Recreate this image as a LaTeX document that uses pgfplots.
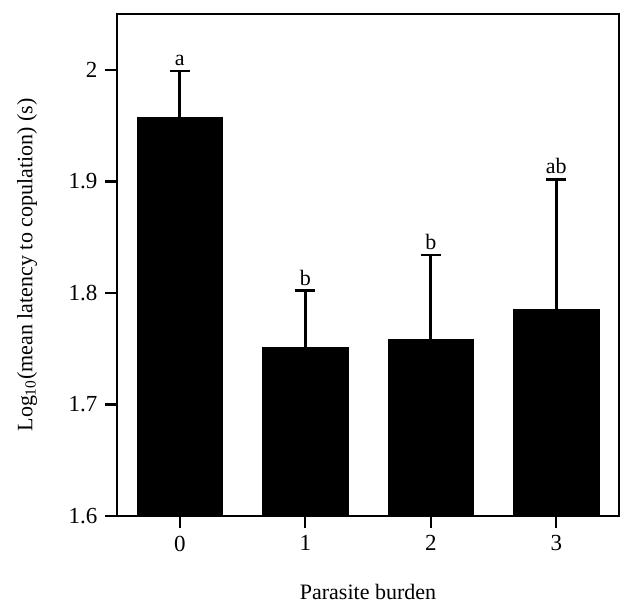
\documentclass[border=0pt]{standalone}
\usepackage{pgfplots}
\pgfplotsset{compat=1.18}
\usepackage{pgfplotstable}
\usepackage{fontspec}
\setmainfont{Liberation Serif}

\pgfplotstableread{
x y err top lbl
0 1.957 0.042 1.999 a
1 1.751 0.051 1.802 b
2 1.758 0.076 1.834 b
3 1.785 0.117 1.902 ab
}\latency

\begin{document}
\fontsize{11pt}{13pt}\selectfont
\begin{tikzpicture}
\begin{axis}[
    scale only axis,
    width=251pt, height=251pt,
    xmin=-0.5, xmax=3.5,
    ymin=1.6, ymax=2.05,
    xtick={0,1,2,3},
    ytick={1.6,1.7,1.8,1.9,2},
    tick pos=left,
    tick align=outside,
    major tick length=6pt,
    every tick/.style={black, line width=1.2pt},
    axis line style={line width=1.2pt},
    /pgf/number format/assume math mode=true,
    ticklabel style={font=\fontsize{11.5pt}{13pt}\selectfont},
    xlabel={Parasite burden},
    ylabel={Log\textsubscript{10}(mean latency to copulation) (s)},
    label style={font=\fontsize{11pt}{13pt}\selectfont},
    xlabel style={at={(axis description cs:0.5,-0.151)}, anchor=center},
    ylabel style={at={(axis description cs:-0.179,0.5)}, anchor=center},
]
\addplot[ybar, bar width=0.68, fill=black, draw=black,
    error bars/.cd, y dir=plus, y explicit,
    error bar style={line width=1.4pt, black},
    error mark options={rotate=90, line width=1.4pt, mark size=5pt, black}]
    table[x=x, y=y, y error=err] {\latency};
\addplot[draw=none, mark=none, nodes near coords, point meta=explicit symbolic,
    nodes near coords style={anchor=south, font=\fontsize{11pt}{13pt}\selectfont, inner sep=2.5pt}]
    table[x=x, y=top, meta=lbl] {\latency};
\end{axis}
\pgfresetboundingbox
\path (current axis.south west) ++(-58.5pt,-45.6pt) rectangle ++(312pt,303.6pt);
\end{tikzpicture}
\end{document}
